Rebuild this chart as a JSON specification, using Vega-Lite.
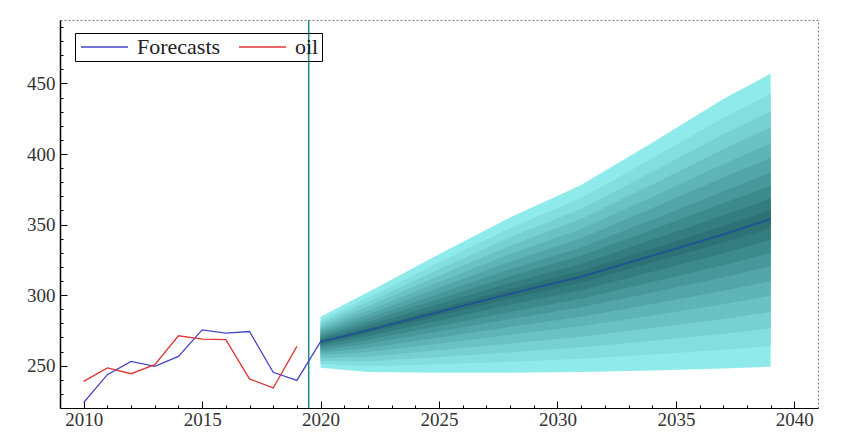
{
  "$schema": "https://vega.github.io/schema/vega-lite/v6.json",
  "width": 758,
  "height": 388,
  "autosize": "none",
  "padding": {"left": 60, "top": 20, "right": 24, "bottom": 35},
  "background": "white",
  "config": {
    "view": {"stroke": "#777", "strokeDash": [2, 2], "strokeWidth": 1},
    "font": "Liberation Serif"
  },
  "datasets": {
    "fan": [
      {"year": 2020, "band": "b0", "value": 248.6, "hi": 284.6},
      {"year": 2022, "band": "b0", "value": 245.5, "hi": 302.0},
      {"year": 2025, "band": "b0", "value": 245.0, "hi": 329.0},
      {"year": 2028, "band": "b0", "value": 245.0, "hi": 355.0},
      {"year": 2031, "band": "b0", "value": 245.5, "hi": 378.0},
      {"year": 2034, "band": "b0", "value": 246.5, "hi": 408.0},
      {"year": 2037, "band": "b0", "value": 248.0, "hi": 439.0},
      {"year": 2039, "band": "b0", "value": 249.3, "hi": 457.0},
      {"year": 2020, "band": "b1", "value": 251.2, "hi": 282.1},
      {"year": 2022, "band": "b1", "value": 249.6, "hi": 298.2},
      {"year": 2025, "band": "b1", "value": 251.0, "hi": 323.3},
      {"year": 2028, "band": "b1", "value": 252.8, "hi": 347.4},
      {"year": 2031, "band": "b1", "value": 254.9, "hi": 368.9},
      {"year": 2034, "band": "b1", "value": 257.9, "hi": 396.8},
      {"year": 2037, "band": "b1", "value": 261.3, "hi": 425.6},
      {"year": 2039, "band": "b1", "value": 264.0, "hi": 442.6},
      {"year": 2020, "band": "b2", "value": 253.4, "hi": 280.0},
      {"year": 2022, "band": "b2", "value": 253.2, "hi": 295.0},
      {"year": 2025, "band": "b2", "value": 256.2, "hi": 318.3},
      {"year": 2028, "band": "b2", "value": 259.6, "hi": 341.0},
      {"year": 2031, "band": "b2", "value": 263.0, "hi": 361.1},
      {"year": 2034, "band": "b2", "value": 267.7, "hi": 387.2},
      {"year": 2037, "band": "b2", "value": 272.7, "hi": 414.0},
      {"year": 2039, "band": "b2", "value": 276.5, "hi": 430.2},
      {"year": 2020, "band": "b3", "value": 255.4, "hi": 278.1},
      {"year": 2022, "band": "b3", "value": 256.4, "hi": 292.0},
      {"year": 2025, "band": "b3", "value": 260.9, "hi": 313.8},
      {"year": 2028, "band": "b3", "value": 265.7, "hi": 335.0},
      {"year": 2031, "band": "b3", "value": 270.5, "hi": 354.0},
      {"year": 2034, "band": "b3", "value": 276.7, "hi": 378.4},
      {"year": 2037, "band": "b3", "value": 283.1, "hi": 403.5},
      {"year": 2039, "band": "b3", "value": 288.0, "hi": 418.9},
      {"year": 2020, "band": "b4", "value": 257.4, "hi": 276.2},
      {"year": 2022, "band": "b4", "value": 259.7, "hi": 289.0},
      {"year": 2025, "band": "b4", "value": 265.6, "hi": 309.3},
      {"year": 2028, "band": "b4", "value": 271.9, "hi": 329.1},
      {"year": 2031, "band": "b4", "value": 277.9, "hi": 346.8},
      {"year": 2034, "band": "b4", "value": 285.6, "hi": 369.6},
      {"year": 2037, "band": "b4", "value": 293.6, "hi": 392.9},
      {"year": 2039, "band": "b4", "value": 299.6, "hi": 407.6},
      {"year": 2020, "band": "b5", "value": 259.3, "hi": 274.4},
      {"year": 2022, "band": "b5", "value": 262.6, "hi": 286.3},
      {"year": 2025, "band": "b5", "value": 269.9, "hi": 305.2},
      {"year": 2028, "band": "b5", "value": 277.5, "hi": 323.7},
      {"year": 2031, "band": "b5", "value": 284.6, "hi": 340.3},
      {"year": 2034, "band": "b5", "value": 293.8, "hi": 361.6},
      {"year": 2037, "band": "b5", "value": 303.1, "hi": 383.3},
      {"year": 2039, "band": "b5", "value": 310.0, "hi": 397.3},
      {"year": 2020, "band": "b6", "value": 261.1, "hi": 272.6},
      {"year": 2022, "band": "b6", "value": 265.6, "hi": 283.6},
      {"year": 2025, "band": "b6", "value": 274.2, "hi": 301.1},
      {"year": 2028, "band": "b6", "value": 283.1, "hi": 318.3},
      {"year": 2031, "band": "b6", "value": 291.4, "hi": 333.8},
      {"year": 2034, "band": "b6", "value": 301.9, "hi": 353.6},
      {"year": 2037, "band": "b6", "value": 312.6, "hi": 373.7},
      {"year": 2039, "band": "b6", "value": 320.5, "hi": 387.0},
      {"year": 2020, "band": "b7", "value": 262.8, "hi": 271.0},
      {"year": 2022, "band": "b7", "value": 268.2, "hi": 281.2},
      {"year": 2025, "band": "b7", "value": 278.1, "hi": 297.4},
      {"year": 2028, "band": "b7", "value": 288.1, "hi": 313.4},
      {"year": 2031, "band": "b7", "value": 297.5, "hi": 328.0},
      {"year": 2034, "band": "b7", "value": 309.3, "hi": 346.4},
      {"year": 2037, "band": "b7", "value": 321.1, "hi": 365.1},
      {"year": 2039, "band": "b7", "value": 329.9, "hi": 377.7},
      {"year": 2020, "band": "b8", "value": 264.4, "hi": 269.5},
      {"year": 2022, "band": "b8", "value": 270.9, "hi": 278.8},
      {"year": 2025, "band": "b8", "value": 282.0, "hi": 293.7},
      {"year": 2028, "band": "b8", "value": 293.2, "hi": 308.6},
      {"year": 2031, "band": "b8", "value": 303.5, "hi": 322.1},
      {"year": 2034, "band": "b8", "value": 316.6, "hi": 339.2},
      {"year": 2037, "band": "b8", "value": 329.7, "hi": 356.4},
      {"year": 2039, "band": "b8", "value": 339.3, "hi": 368.4},
      {"year": 2020, "band": "b9", "value": 265.9, "hi": 268.1},
      {"year": 2022, "band": "b9", "value": 273.2, "hi": 276.6},
      {"year": 2025, "band": "b9", "value": 285.4, "hi": 290.5},
      {"year": 2028, "band": "b9", "value": 297.6, "hi": 304.2},
      {"year": 2031, "band": "b9", "value": 308.9, "hi": 316.9},
      {"year": 2034, "band": "b9", "value": 323.1, "hi": 332.8},
      {"year": 2037, "band": "b9", "value": 337.3, "hi": 348.8},
      {"year": 2039, "band": "b9", "value": 347.7, "hi": 360.2}
    ],
    "median": [
      {"year": 2020, "value": 267},
      {"year": 2022, "value": 275},
      {"year": 2025, "value": 288},
      {"year": 2028, "value": 301},
      {"year": 2031, "value": 313},
      {"year": 2034, "value": 328},
      {"year": 2037, "value": 343},
      {"year": 2039, "value": 354}
    ],
    "lines": [
      {"year": 2010, "series": "Forecasts", "value": 223.9},
      {"year": 2011, "series": "Forecasts", "value": 243.6},
      {"year": 2012, "series": "Forecasts", "value": 253.0},
      {"year": 2013, "series": "Forecasts", "value": 249.5},
      {"year": 2014, "series": "Forecasts", "value": 256.6},
      {"year": 2015, "series": "Forecasts", "value": 275.4},
      {"year": 2016, "series": "Forecasts", "value": 273.1},
      {"year": 2017, "series": "Forecasts", "value": 274.2},
      {"year": 2018, "series": "Forecasts", "value": 245.3},
      {"year": 2019, "series": "Forecasts", "value": 239.6},
      {"year": 2020, "series": "Forecasts", "value": 267.0},
      {"year": 2010, "series": "oil", "value": 238.9},
      {"year": 2011, "series": "oil", "value": 248.4},
      {"year": 2012, "series": "oil", "value": 244.3},
      {"year": 2013, "series": "oil", "value": 250.7},
      {"year": 2014, "series": "oil", "value": 271.2},
      {"year": 2015, "series": "oil", "value": 268.8},
      {"year": 2016, "series": "oil", "value": 268.4},
      {"year": 2017, "series": "oil", "value": 240.6},
      {"year": 2018, "series": "oil", "value": 234.2},
      {"year": 2019, "series": "oil", "value": 263.7}
    ],
    "vline": [{"year": 2019.5}]
  },
  "encoding": {
    "x": {
      "field": "year",
      "type": "quantitative",
      "scale": {"domain": [2009, 2041], "nice": false, "zero": false},
      "axis": {
        "title": null,
        "values": [2010,2011,2012,2013,2014,2015,2016,2017,2018,2019,2020,2021,2022,2023,2024,2025,2026,2027,2028,2029,2030,2031,2032,2033,2034,2035,2036,2037,2038,2039,2040],
        "labelExpr": "datum.value % 5 === 0 ? datum.value : ''",
        "grid": false,
        "domainColor": "#000",
        "domainWidth": 1,
        "tickColor": "#000",
        "tickSize": {"condition": {"test": "datum.value % 5 === 0", "value": -7}, "value": -3},
        "labelFont": "Liberation Serif",
        "labelFontSize": 19,
        "labelColor": "#333",
        "labelPadding": 9,
        "labelFlush": false,
        "labelOverlap": false
      }
    },
    "y": {
      "field": "value",
      "type": "quantitative",
      "scale": {"domain": [220, 495], "nice": false, "zero": false},
      "axis": {
        "title": null,
        "values": [230,240,250,260,270,280,290,300,310,320,330,340,350,360,370,380,390,400,410,420,430,440,450,460,470,480,490],
        "labelExpr": "datum.value % 50 === 0 ? datum.value : ''",
        "grid": false,
        "domainColor": "#000",
        "domainWidth": 1.5,
        "tickColor": "#000",
        "tickSize": {"condition": {"test": "datum.value % 50 === 0", "value": -7}, "value": -3},
        "labelFont": "Liberation Serif",
        "labelFontSize": 19,
        "labelColor": "#333",
        "labelPadding": 12,
        "labelOverlap": false
      }
    }
  },
  "layer": [
    {
      "data": {"name": "fan"},
      "mark": {"type": "area", "interpolate": "linear", "opacity": 1},
      "encoding": {
        "y2": {"field": "hi"},
        "color": {
          "field": "band",
          "type": "nominal",
          "scale": {
            "domain": ["b0","b1","b2","b3","b4","b5","b6","b7","b8","b9"],
            "range": ["#8FEBEB","#83DEDF","#77D0D2","#6BC2C4","#5FB4B6","#53A6A8","#48989B","#3D8A8D","#337D80","#2D7275"]
          },
          "legend": null
        }
      }
    },
    {
      "data": {"name": "median"},
      "mark": {"type": "line", "color": "#1F5592", "strokeWidth": 2},
      "encoding": {}
    },
    {
      "data": {"name": "vline"},
      "mark": {"type": "rule", "color": "#1E8A8A", "strokeWidth": 1.5},
      "encoding": {"y": null}
    },
    {
      "data": {"name": "lines"},
      "mark": {"type": "line", "strokeWidth": 1.3},
      "encoding": {
        "color": {
          "field": "series",
          "type": "nominal",
          "scale": {"domain": ["Forecasts", "oil"], "range": ["#4545C8", "#E03535"]},
          "legend": {
            "title": null,
            "orient": "none",
            "legendX": 15,
            "legendY": 13,
            "direction": "horizontal",
            "strokeColor": "#000",
            "padding": 3,
            "symbolType": "M-1,0H4.875",
            "symbolSize": 256,
            "symbolStrokeWidth": 1.3,
            "labelFont": "Liberation Serif",
            "labelFontSize": 22,
            "labelColor": "#222",
            "columnPadding": 15,
            "labelOffset": 37
          }
        }
      }
    }
  ],
  "resolve": {"scale": {"color": "independent"}}
}
